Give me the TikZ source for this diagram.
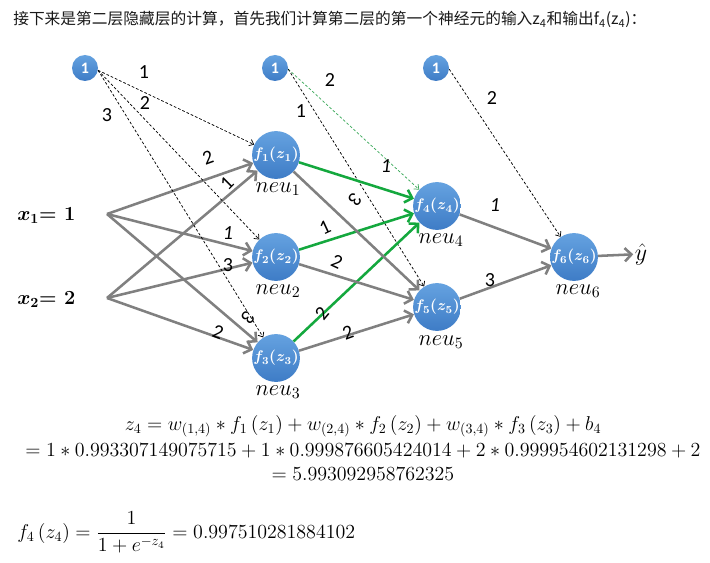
\RequirePackage{fix-cm}
\documentclass[tikz,border=0pt]{standalone}
\usepackage{amsmath}
\usepackage{fontspec}
\usetikzlibrary{arrows.meta}
\newfontfamily\cjkfont{Noto Sans CJK SC}
\newfontfamily\calib{Carlito}
\definecolor{grayarrow}{HTML}{808080}
\definecolor{greenarrow}{HTML}{14A83E}
\definecolor{greendash}{HTML}{3DAA5C}
\definecolor{nodetop}{HTML}{65A2E0}
\definecolor{nodebot}{HTML}{3E7CC6}
\newcommand{\fzlab}[1]{$\boldsymbol{f_{#1}(z_{#1})}$}
\newcommand{\neulab}[1]{$neu_{#1}$}
\begin{document}
\begin{tikzpicture}[x=0.75pt,y=-0.75pt,
  neuron/.style={circle, inner sep=0pt, minimum size=31.5pt, top color=nodetop, bottom color=nodebot, text=white, font=\fontsize{11.5}{13}\selectfont},
  bias/.style={circle, inner sep=0pt, minimum size=19.5pt, top color=nodetop, bottom color=nodebot, text=white, font=\calib\bfseries\fontsize{12}{13}\selectfont},
  neutext/.style={inner sep=0pt, font=\fontsize{17}{19}\selectfont},
  wlab/.style={inner sep=0pt, font=\calib\fontsize{15}{17}\selectfont},
  garrow/.style={draw=grayarrow, line width=1.9pt, -{Straight Barb[length=5pt,width=10pt]}},
  grarrow/.style={draw=greenarrow, line width=1.9pt, -{Straight Barb[length=5pt,width=10pt]}},
  dsharrow/.style={draw=black, line width=0.55pt, dash pattern=on 2pt off 1.5pt, -{Straight Barb[length=3pt,width=5pt]}},
  gdsharrow/.style={draw=greendash, line width=0.55pt, dash pattern=on 2pt off 1.5pt, -{Straight Barb[length=3pt,width=5pt]}},
  formula/.style={inner sep=0pt, font=\fontsize{15}{18}\selectfont}
]
\useasboundingbox[fill=white] (0,0) rectangle (710,563);

% header
\node[anchor=base west, inner sep=0pt, font=\cjkfont\fontsize{11.8}{14}\selectfont, text=black!90] (hdr) at (13,25)
  {接下来是第二层隐藏层的计算，首先我们计算第二层的第一个神经元的输入z\textsubscript{4}和输出f\textsubscript{4}(z\textsubscript{4})：};

% bias nodes
\node[bias] (b1) at (85,68) {1};
\node[bias] (b2) at (275,68) {1};
\node[bias] (b3) at (436,68) {1};

% neurons
\node[neuron] (n1) at (276,155) {\fzlab{1}};
\node[neuron] (n2) at (276,257) {\fzlab{2}};
\node[neuron] (n3) at (276,358) {\fzlab{3}};
\node[neuron] (n4) at (437,206) {\fzlab{4}};
\node[neuron] (n5) at (437,307) {\fzlab{5}};
\node[neuron] (n6) at (574,257) {\fzlab{6}};

% neuron names
\node[neutext] (l1) at (278,189) {\neulab{1}};
\node[neutext] (l2) at (278,291) {\neulab{2}};
\node[neutext] (l3) at (278,392) {\neulab{3}};
\node[neutext] (l4) at (441,240) {\neulab{4}};
\node[neutext] (l5) at (441,342) {\neulab{5}};
\node[neutext] (l6) at (578,291) {\neulab{6}};

% inputs
\node[anchor=base west, inner sep=0pt, font=\fontsize{15}{17}\selectfont] (x1) at (17,220) {$\boldsymbol{x_1}$\textbf{= 1}};
\node[anchor=base west, inner sep=0pt, font=\fontsize{15}{17}\selectfont] (x2) at (17,304) {$\boldsymbol{x_2}$\textbf{= 2}};
\coordinate (x1p) at (107,214);
\coordinate (x2p) at (107,298);

% output
\node[inner sep=1pt, font=\fontsize{18}{20}\selectfont] (yh) at (641,254) {$\hat{y}$};

% input -> hidden 1
\draw[garrow] (x1p) -- (n1);
\draw[garrow] (x1p) -- (n2);
\draw[garrow] (x1p) -- (n3);
\draw[garrow] (x2p) -- (n1);
\draw[garrow] (x2p) -- (n2);
\draw[garrow] (x2p) -- (n3);

% bias dashed
\draw[dsharrow] (b1.-10) -- (n1);
\draw[dsharrow] (b1.-10) -- (n2);
\draw[dsharrow] (b1.-10) -- (n3);
\draw[gdsharrow] (b2.-5) -- (n4);
\draw[dsharrow] (b2.-5) -- (n5);
\draw[dsharrow] (b3.-5) -- (n6);

% hidden 1 -> hidden 2
\draw[grarrow] (n1) -- (n4);
\draw[grarrow] (n2) -- (n4);
\draw[grarrow] (n3) -- (n4);
\draw[garrow] (n1) -- (n5);
\draw[garrow] (n2) -- (n5);
\draw[garrow] (n3) -- (n5);

% hidden 2 -> output
\draw[garrow] (n4) -- (n6);
\draw[garrow] (n5) -- (n6);
\draw[garrow] (n6) -- (yh);

% weight labels
\node[wlab] (w1) at (144,72) {1};
\node[wlab] (w2) at (145,103) {2};
\node[wlab] (w3) at (107,115) {3};
\node[wlab, rotate=20] (w4) at (208,158) {2};
\node[wlab, rotate=45] (w5) at (227,183) {1};
\node[wlab, font=\calib\itshape\fontsize{15}{17}\selectfont] (w6) at (228,233) {1};
\node[wlab] (w7) at (228,265) {3};
\node[wlab, rotate=-130] (w8) at (248,318) {3};
\node[wlab, rotate=-20] (w9) at (218,332) {2};
\node[wlab] (w10) at (330,80) {2};
\node[wlab] (w11) at (301,111) {1};
\node[wlab, font=\calib\itshape\fontsize{15}{17}\selectfont] (w12) at (386,166) {1};
\node[wlab, rotate=-130] (w13) at (355,200) {3};
\node[wlab, rotate=25] (w14) at (325,228) {1};
\node[wlab, rotate=-25] (w15) at (337,262) {2};
\node[wlab, rotate=50] (w16) at (322,313) {2};
\node[wlab, rotate=20] (w17) at (348,333) {2};
\node[wlab] (w18) at (492,98) {2};
\node[wlab, font=\calib\itshape\fontsize{15}{17}\selectfont] (w19) at (495,205) {1};
\node[wlab] (w20) at (490,280) {3};

% formulas
\node[formula, anchor=base] (f1) at (363,430) {$z_4=w_{(1,4)}*f_1\left(z_1\right)+w_{(2,4)}*f_2\left(z_2\right)+w_{(3,4)}*f_3\left(z_3\right)+b_4$};
\node[formula, anchor=base] (f2) at (363,456) {$=1*0.993307149075715+1*0.999876605424014+2*0.999954602131298+2$};
\node[formula, anchor=base] (f3) at (363,480) {$=5.993092958762325$};
\node[formula, anchor=base west] (f4) at (17,538) {$f_4\left(z_4\right)=\dfrac{1}{1+e^{-z_4}}=0.997510281884102$};
\end{tikzpicture}
\end{document}
